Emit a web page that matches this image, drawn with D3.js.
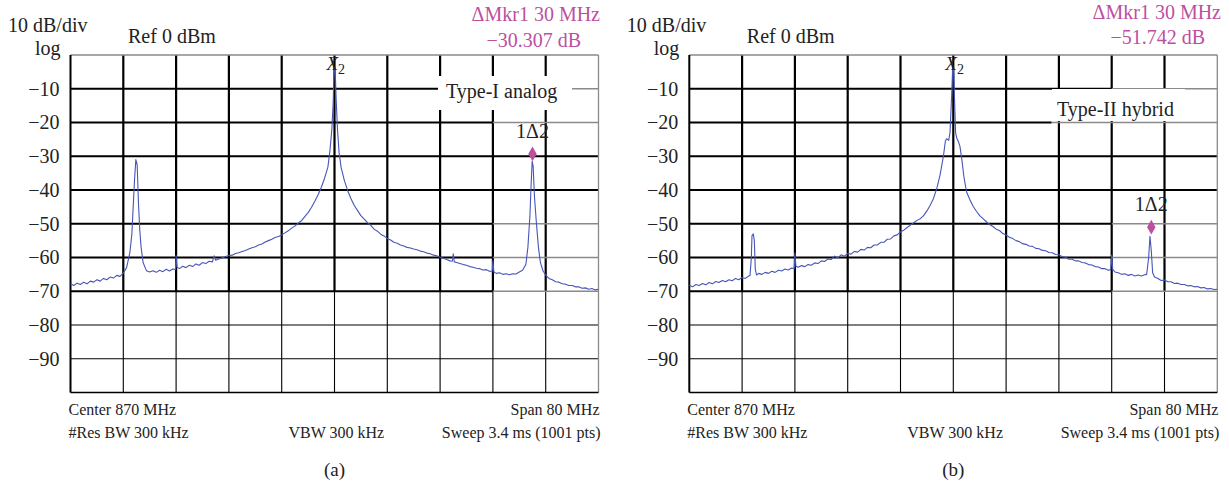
<!DOCTYPE html>
<html>
<head>
<meta charset="utf-8">
<script src="https://cdn.jsdelivr.net/npm/d3@7"></script>
<style>
  body { margin: 0; background: #fff; }
  svg { display: block; font-family: "Liberation Serif", "Times New Roman", serif; }
</style>
</head>
<body>
<div id="chart"></div>
<script>
// Spectrum analyser screens: (a) Type-I analog, (b) Type-II hybrid
// frequency in MHz, level in dBm

const yTicks = [-10, -20, -30, -40, -50, -60, -70, -80, -90];
const freqDomain = [830, 910];
const levelDomain = [-100, 0];

const headerTexts = ["10 dB/div", "log", "Ref 0 dBm"];
const footerTexts = ["Center 870 MHz", "Span 80 MHz", "#Res BW 300 kHz", "VBW 300 kHz", "Sweep 3.4 ms (1001 pts)"];
const panelTags = ["(a)", "(b)"];
const panelLabels = ["Type-I analog", "Type-II hybrid"];
const deltaTexts = [["\u0394Mkr1 30 MHz", "\u221230.307 dB"], ["\u0394Mkr1 30 MHz", "\u221251.742 dB"]];
const markerPoints = [[900, -29.3], [900, -51.0]];
const mainPeak = 870;

const traceA = [
  [830,-67.8],[830.5,-68.3],[831,-67.6],[831.5,-68.0],[832,-67.3],[832.5,-67.8],[833,-67.0],[833.5,-67.3],
  [834,-66.6],[834.5,-67.0],[835,-66.2],[835.5,-66.6],[836,-65.8],[836.5,-66.1],[837,-65.3],[837.5,-65.6],
  [838,-64.6],[838.5,-63.0],[839,-58.5],[839.3,-53],[839.5,-45],[839.7,-37],[839.9,-31.0],[840.1,-32.5],
  [840.3,-44],[840.5,-52],[840.7,-57],[841,-61.5],[841.5,-63.9],[842,-64.3],[842.5,-63.9],[843,-64.4],
  [843.5,-63.8],[844,-64.2],[844.5,-63.5],[845,-64.0],[845.5,-63.4],[845.9,-63.6],[846,-59.4],[846.15,-62.9],
  [846.5,-63.3],[847,-62.6],[847.5,-63.0],[848,-62.3],[848.5,-62.7],[849,-61.9],[849.5,-62.3],[850,-61.5],
  [850.5,-61.8],[851,-61.1],[851.5,-61.3],[851.75,-59.5],[852,-60.8],[852.5,-60.4],[853,-60.1],[853.5,-59.7],
  [854,-59.4],[854.5,-59.3],[855,-58.8],[855.5,-58.6],[856,-58.2],[856.5,-57.9],[857,-57.5],[857.5,-57.1],
  [858,-56.8],[858.5,-56.3],[859,-56.0],[859.5,-55.4],[860,-55.0],[860.5,-54.6],[861,-54.1],[861.5,-53.8],
  [862,-53.3],[862.5,-52.7],[863,-52.1],[863.5,-51.3],[864,-50.7],[864.5,-49.8],[865,-49.1],[865.5,-47.9],
  [866,-46.7],[866.5,-45.2],[867,-43.4],[867.5,-41.5],[868,-39.2],[868.5,-36.5],[869,-33.2],[869.3,-28.5],
  [869.6,-22],[869.8,-14],[869.95,-3.8],[870.1,-4.2],[870.25,-13],[870.45,-22],[870.7,-29],[871,-33.3],
  [871.5,-37.2],[872,-40.2],[872.5,-42.6],[873,-44.6],[873.5,-46.1],[874,-47.6],[874.5,-48.6],[875,-49.7],
  [875.5,-50.5],[876,-51.6],[876.5,-52.2],[877,-53.1],[877.5,-53.6],[878,-54.4],[878.5,-54.8],[879,-55.5],
  [879.5,-55.8],[880,-56.3],[880.5,-56.6],[881,-57.0],[881.5,-57.2],[882,-57.5],[882.5,-57.7],[883,-58.1],
  [883.5,-58.3],[884,-58.7],[884.5,-58.9],[885,-59.3],[885.5,-59.5],[886,-59.9],[886.5,-60.2],[887,-60.6],
  [887.5,-61.0],[887.85,-61.1],[888,-58.9],[888.15,-61.3],[888.5,-61.5],[889,-61.8],[889.5,-62.1],[890,-62.3],
  [890.5,-62.7],[891,-62.9],[891.5,-63.2],[892,-63.3],[892.5,-63.7],[893,-63.6],[893.5,-64.1],[893.9,-64.0],
  [894,-61.0],[894.15,-64.3],[894.5,-64.7],[895,-64.5],[895.5,-65.0],[896,-64.8],[896.5,-65.1],[897,-64.8],
  [897.5,-64.9],[898,-64.3],[898.5,-63.8],[899,-62],[899.3,-57],[899.6,-48],[899.8,-38],[899.95,-31.5],
  [900.1,-33],[900.3,-42],[900.6,-50],[900.9,-57],[901.2,-61.5],[901.6,-64],[902,-65.2],[902.5,-66.2],
  [903,-66.6],[903.5,-67.2],[904,-67.3],[904.5,-67.8],[905,-67.9],[905.5,-68.3],[906,-68.3],[906.5,-68.7],
  [907,-68.7],[907.5,-69.1],[908,-69.0],[908.5,-69.4],[909,-69.2],[909.5,-69.6],[910,-69.4]
];

const traceB = [
  [830,-68.2],[830.5,-68.7],[831,-68.0],[831.5,-68.3],[832,-67.7],[832.5,-68.1],[833,-67.4],[833.5,-67.8],
  [834,-67.1],[834.5,-67.4],[835,-66.8],[835.5,-67.2],[836,-66.6],[836.5,-66.9],[837,-66.2],[837.5,-66.6],
  [838,-65.9],[838.5,-66.2],[839,-65.5],[839.2,-65.3],[839.4,-60],[839.5,-53.5],[839.7,-53.0],[839.85,-55],
  [840,-63.5],[840.2,-65.2],[840.5,-64.7],[841,-65.0],[841.5,-64.4],[842,-64.7],[842.5,-64.1],[843,-64.4],
  [843.5,-63.8],[844,-64.0],[844.5,-63.4],[845,-63.7],[845.5,-63.1],[845.9,-63.3],[846,-58.7],[846.15,-62.6],
  [846.5,-62.9],[847,-62.4],[847.5,-62.7],[848,-62.1],[848.5,-62.3],[849,-61.6],[849.5,-61.8],[850,-61.0],
  [850.5,-61.2],[851,-60.4],[851.5,-60.6],[852,-59.6],[852.5,-60.1],[853,-59.2],[853.5,-59.6],[854,-58.8],
  [854.5,-59.0],[855,-58.2],[855.5,-58.4],[856,-57.6],[856.5,-57.8],[857,-57.0],[857.5,-57.1],[858,-56.3],
  [858.5,-56.3],[859,-55.5],[859.5,-55.5],[860,-54.6],[860.5,-54.5],[861,-53.6],[861.5,-53.3],[862,-52.4],
  [862.5,-51.9],[863,-51.1],[863.5,-50.4],[864,-49.7],[864.5,-49.0],[865,-48.5],[865.5,-47.6],[866,-46.2],
  [866.5,-44.5],[867,-42.5],[867.5,-39.5],[868,-35.5],[868.5,-30],[868.8,-25.5],[869,-24.8],[869.3,-25.3],
  [869.5,-23],[869.75,-12],[869.9,-4],[870.05,-4.5],[870.2,-14],[870.35,-23],[870.5,-24.5],[870.8,-25.8],
  [871,-27],[871.3,-31],[871.6,-36],[872,-40.5],[872.5,-42.8],[873,-44.8],[873.5,-46.3],[874,-47.6],
  [874.5,-48.5],[875,-49.4],[875.5,-50.2],[876,-50.8],[876.5,-51.6],[877,-52.0],[877.5,-52.9],[878,-53.3],
  [878.5,-54.0],[879,-54.4],[879.5,-55.0],[880,-55.3],[880.5,-55.9],[881,-56.1],[881.5,-56.6],[882,-56.7],
  [882.5,-57.3],[883,-57.4],[883.5,-57.9],[884,-58.0],[884.5,-58.5],[885,-58.6],[885.5,-59.1],[886,-59.2],
  [886.5,-59.8],[887,-59.9],[887.5,-60.5],[888,-60.5],[888.5,-61.0],[889,-61.0],[889.5,-61.5],[890,-61.6],
  [890.5,-62.1],[891,-62.2],[891.5,-62.7],[892,-62.8],[892.5,-63.3],[893,-63.3],[893.5,-63.8],[893.85,-63.6],
  [894,-59.3],[894.15,-63.5],[894.5,-64.3],[895,-64.5],[895.5,-65.0],[896,-64.8],[896.5,-65.3],[897,-65.0],
  [897.5,-65.5],[898,-65.2],[898.5,-65.5],[899,-65.1],[899.3,-65.0],[899.6,-60],[899.8,-53.7],[900.0,-58],
  [900.2,-64.5],[900.5,-65.8],[901,-66.2],[901.5,-66.8],[902,-66.7],[902.5,-67.2],[903,-67.2],[903.5,-67.7],
  [904,-67.6],[904.5,-68.0],[905,-68.0],[905.5,-68.4],[906,-68.3],[906.5,-68.7],[907,-68.6],[907.5,-69.0],
  [908,-68.9],[908.5,-69.3],[909,-69.2],[909.5,-69.5],[910,-69.4]
];

const width = 1229, height = 486;
const plotTop = 55, plotBottom = 392.5;
const traceColor = "#4656b8";
const mkrColor = "#bd4f9f";

const svg = d3.select("#chart").append("svg")
  .attr("width", width)
  .attr("height", height);

// per-panel layout (screen position, label box, lighter grid runs)
const panels = [
  { x0: 70.5, x1: 598.5, trace: traceA,
    box: [438, 76, 572, 110], labelPos: [446, 98],
    grayFrom: { "-10": 894, "-20": 894, "-50": 894, "-60": 894, "-70": 894 },
    deltaPos: [[600, 21], [581, 47]] },
  { x0: 689.3, x1: 1217.3, trace: traceB,
    box: [1052, 89, 1185, 121], labelPos: [1057, 116],
    grayFrom: { "-10": 894, "-20": 884.9, "-50": 894, "-60": 894, "-70": 894 },
    deltaPos: [[1221, 19], [1205, 44]] }
];

panels.forEach((p, i) => drawPanel(p, i));

function drawPanel(p, i) {
  const g = svg.append("g");
  const x = d3.scaleLinear().domain(freqDomain).range([p.x0, p.x1]);
  const y = d3.scaleLinear().domain(levelDomain).range([plotBottom, plotTop]);

  // grid: heavy lines in the upper part of the screen, thin below -70
  const vFreqs = d3.range(freqDomain[0] + 8, freqDomain[1], 8);
  const grid = g.append("g");
  grid.selectAll(".vthick").data(vFreqs).join("line")
    .attr("x1", d => x(d)).attr("x2", d => x(d))
    .attr("y1", y(0)).attr("y2", y(-70))
    .attr("stroke", "#000").attr("stroke-width", 2.2);
  grid.selectAll(".vthin").data(vFreqs).join("line")
    .attr("x1", d => x(d)).attr("x2", d => x(d))
    .attr("y1", y(-70)).attr("y2", y(-100))
    .attr("stroke", "#000").attr("stroke-width", 1.1);

  yTicks.forEach(v => {
    const heavy = v >= -70;
    const gf = p.grayFrom[String(v)];
    const xEnd = gf ? x(gf) : x(freqDomain[1]);
    grid.append("line")
      .attr("x1", x(freqDomain[0])).attr("x2", xEnd)
      .attr("y1", y(v)).attr("y2", y(v))
      .attr("stroke", "#000").attr("stroke-width", heavy ? 2.2 : 1.1);
    if (gf) {
      grid.append("line")
        .attr("x1", xEnd).attr("x2", x(freqDomain[1]))
        .attr("y1", y(v)).attr("y2", y(v))
        .attr("stroke", "#8a8a8a").attr("stroke-width", 1.3);
    }
  });

  // frame
  grid.append("line").attr("x1", x(830)).attr("x2", x(910)).attr("y1", y(0)).attr("y2", y(0))
    .attr("stroke", "#8a8a8a").attr("stroke-width", 1.3);
  grid.append("line").attr("x1", x(910)).attr("x2", x(910)).attr("y1", y(0)).attr("y2", y(-100))
    .attr("stroke", "#8a8a8a").attr("stroke-width", 1.3);
  grid.append("line").attr("x1", x(830)).attr("x2", x(830)).attr("y1", y(0)).attr("y2", y(-100))
    .attr("stroke", "#000").attr("stroke-width", 2);
  grid.append("line").attr("x1", x(830)).attr("x2", x(910)).attr("y1", y(-100)).attr("y2", y(-100))
    .attr("stroke", "#000").attr("stroke-width", 1.6);

  // y axis labels
  const yAxis = d3.axisLeft(y).tickValues(yTicks).tickSize(0).tickPadding(11)
    .tickFormat(d => "\u2212" + Math.abs(d));
  const ax = g.append("g").attr("transform", `translate(${p.x0},0)`).call(yAxis);
  ax.select(".domain").remove();
  ax.selectAll("text").attr("font-family", "Liberation Serif, serif")
    .attr("font-size", 20).attr("fill", "#222");

  // label box
  g.append("rect")
    .attr("x", p.box[0]).attr("y", p.box[1])
    .attr("width", p.box[2] - p.box[0]).attr("height", p.box[3] - p.box[1])
    .attr("fill", "#fff");
  g.append("text").attr("x", p.labelPos[0]).attr("y", p.labelPos[1])
    .attr("font-size", 20).attr("fill", "#222").text(panelLabels[i]);

  // trace
  const line = d3.line().x(d => x(d[0])).y(d => y(d[1]));
  g.append("path").datum(p.trace)
    .attr("d", line)
    .attr("fill", "none")
    .attr("stroke", traceColor)
    .attr("stroke-width", 1.1)
    .attr("stroke-linejoin", "round");

  // X2 label over main peak
  const x2 = g.append("text").attr("x", x(mainPeak) - 8).attr("y", 70)
    .attr("fill", "#222").attr("font-size", 19);
  x2.append("tspan").attr("font-style", "italic").text("X");
  x2.append("tspan").attr("font-size", 14).attr("dy", 4).text("2");

  // delta marker
  const mk = markerPoints[i];
  g.append("path")
    .attr("d", d3.symbol(d3.symbolDiamond, 62)())
    .attr("transform", `translate(${x(mk[0])},${y(mk[1])})`)
    .attr("fill", mkrColor);
  g.append("text").attr("x", x(mk[0])).attr("y", y(mk[1]) - 16)
    .attr("text-anchor", "middle").attr("font-size", 20).attr("fill", "#222")
    .text("1\u03942");

  // header
  g.append("text").attr("x", p.x0 - 62.5).attr("y", 32).attr("font-size", 20).attr("fill", "#222").text(headerTexts[0]);
  g.append("text").attr("x", p.x0 - 10).attr("y", 55).attr("text-anchor", "end").attr("font-size", 20).attr("fill", "#222").text(headerTexts[1]);
  g.append("text").attr("x", p.x0 + 57.5).attr("y", 43).attr("font-size", 20).attr("fill", "#222").text(headerTexts[2]);

  deltaTexts[i].forEach((t, k) => {
    g.append("text").attr("x", p.deltaPos[k][0]).attr("y", p.deltaPos[k][1])
      .attr("text-anchor", "end").attr("font-size", 20).attr("fill", mkrColor).text(t);
  });

  // footer
  const foot = [
    [footerTexts[0], p.x0 - 2, 415, "start"],
    [footerTexts[1], p.x1 + 1, 415, "end"],
    [footerTexts[2], p.x0 - 2, 438, "start"],
    [footerTexts[3], p.x0 + 218, 438, "start"],
    [footerTexts[4], p.x1 + 2, 438, "end"]
  ];
  foot.forEach(f => {
    g.append("text").attr("x", f[1]).attr("y", f[2]).attr("text-anchor", f[3])
      .attr("font-size", 16).attr("fill", "#222").text(f[0]);
  });
  g.append("text").attr("x", (p.x0 + p.x1) / 2).attr("y", 476)
    .attr("text-anchor", "middle").attr("font-size", 19).attr("fill", "#222").text(panelTags[i]);
}
</script>
</body>
</html>
